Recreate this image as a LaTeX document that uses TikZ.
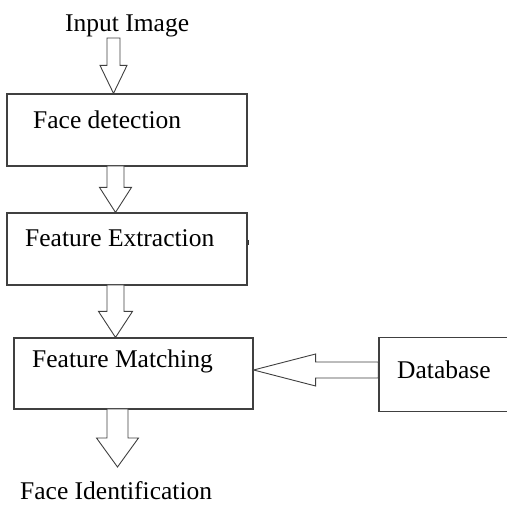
\documentclass[tikz,border=0pt]{standalone}
\usepackage{fontspec}
\setmainfont{Liberation Serif}
\usetikzlibrary{calc}

% hollow block arrow pointing down: start, tip, shaft half width, head half width, head length
\newcommand{\blockdown}[5]{%
  \draw[blockarrow] let \p1=(#1), \p2=(#2) in
    (\x2-#3pt,\y1) -- (\x2+#3pt,\y1) -- (\x2+#3pt,\y2+#5pt) -- (\x2+#4pt,\y2+#5pt)
    -- (\p2) -- (\x2-#4pt,\y2+#5pt) -- (\x2-#3pt,\y2+#5pt) -- cycle;}
% hollow block arrow pointing left
\newcommand{\blockleft}[5]{%
  \draw[blockarrow] let \p1=(#1), \p2=(#2) in
    (\x1,\y2-#3pt) -- (\x1,\y2+#3pt) -- (\x2+#5pt,\y2+#3pt) -- (\x2+#5pt,\y2+#4pt)
    -- (\p2) -- (\x2+#5pt,\y2-#4pt) -- (\x2+#5pt,\y2-#3pt) -- cycle;}

\tikzset{
  stagebox/.style={draw=black!75, line width=1.2pt, rectangle, inner sep=0pt},
  label text/.style={anchor=base west, inner sep=0pt, text=black,
                     font=\fontsize{25.5}{30}\selectfont},
  blockarrow/.style={draw=black!75, line width=0.9pt, fill=white, line join=miter},
}

\begin{document}
\begin{tikzpicture}[x=1pt, y=-1pt]
  \useasboundingbox (0,0) rectangle (507,505);

  % stage boxes (the database box runs on past the right margin)
  \node[stagebox, minimum width=240pt, minimum height=72pt] (fd) at (127,130) {};
  \node[stagebox, minimum width=240pt, minimum height=72pt] (fe) at (127,249) {};
  \node[stagebox, minimum width=239pt, minimum height=71pt] (fm) at (133.5,373.5) {};
  \node[stagebox, minimum width=151pt, minimum height=74pt] (db) at (454.5,374.5) {};

  % small stray mark on the right edge of the extraction box
  \draw[black!80, line width=1.6pt] ($(fe.east)+(1,-9)$) -- ++(0,5);

  % labels
  \node[label text] (in)  at (65,32)   {Input Image};
  \node[label text] (fdt) at (33,129)  {Face detection};
  \node[label text] (fet) at (25,247)  {Feature Extraction};
  \node[label text] (fmt) at (32,368)  {Feature Matching};
  \node[label text] (dbt) at (397,379) {Database};
  \node[label text] (out) at (20,500)  {Face Identification};

  % arrow anchor points
  \coordinate (a1s) at (113.5,38);
  \coordinate (a2s) at (115.5,166);
  \coordinate (a3s) at (115.5,285);
  \coordinate (a4s) at (117.5,409);
  \coordinate (a4t) at (117.5,467);
  \coordinate (hs)  at (379,370);

  \blockdown{a1s}{a1s |- fd.north}{6.5}{13.5}{28}
  \blockdown{a2s}{a2s |- fe.north}{8.5}{16}{25}
  \blockdown{a3s}{a3s |- fm.north}{8.5}{17}{26}
  \blockdown{a4s}{a4t}{10.5}{21}{29}
  \blockleft{db.west |- hs}{fm.east |- hs}{8}{16}{62}
\end{tikzpicture}
\end{document}
